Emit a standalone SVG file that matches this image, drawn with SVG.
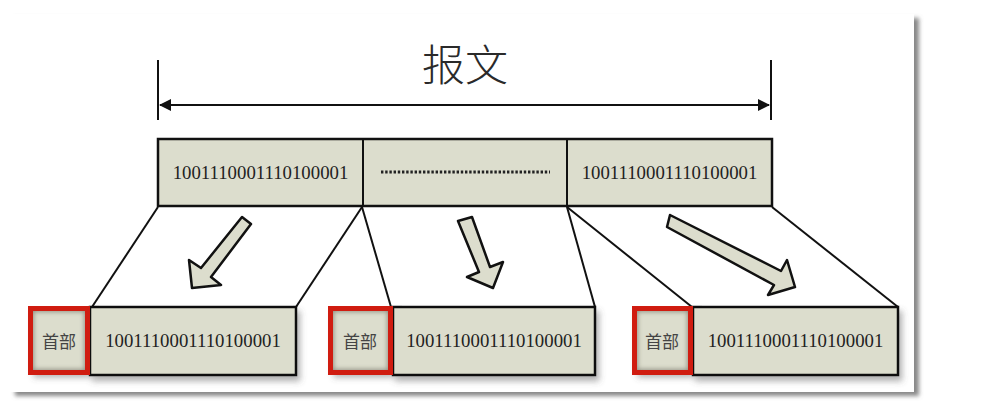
<svg xmlns="http://www.w3.org/2000/svg" width="991" height="416" viewBox="0 0 991 416">
  <defs>
    <filter id="pageShadow" x="-5%" y="-5%" width="115%" height="115%">
      <feDropShadow dx="5" dy="4" stdDeviation="2.2" flood-color="#6a6a6a" flood-opacity="0.8"/>
    </filter>
    <filter id="boxShadow" x="-10%" y="-10%" width="130%" height="140%">
      <feDropShadow dx="3" dy="5" stdDeviation="3" flood-color="#555" flood-opacity="0.45"/>
    </filter>
    <filter id="innerBlur" x="-20%" y="-20%" width="140%" height="140%">
      <feGaussianBlur stdDeviation="2.5"/>
    </filter>
    <marker id="dimArrow" viewBox="0 0 12 12" refX="11" refY="6" markerWidth="12" markerHeight="12" markerUnits="userSpaceOnUse" orient="auto-start-reverse">
      <path d="M0,0 L12,6 L0,12 Z" fill="#111"/>
    </marker>
    <clipPath id="clipR1"><rect x="33" y="311" width="52" height="59"/></clipPath>
    <clipPath id="clipR2"><rect x="333" y="311" width="55" height="59"/></clipPath>
    <clipPath id="clipR3"><rect x="637" y="311" width="51" height="59"/></clipPath>
  </defs>
  <style>
    .seg { fill: #dcddcd; stroke: #111; stroke-width: 2.5; }
    .data { fill: #dcddcd; stroke: #111; stroke-width: 2.5; }
    .hdrFill { fill: #dcddcd; }
    .hdr { fill: none; stroke: #d01c10; stroke-width: 5; }
    .inner { fill: none; stroke: #66665a; stroke-width: 6; opacity: 0.7; }
    .bits { font-family: "Liberation Serif", "Times New Roman", serif; font-size: 18.8px; fill: #222; text-anchor: middle; }
    .cjk { font-family: "Noto Sans CJK SC", "Noto Sans CJK JP", sans-serif; fill: #444; text-anchor: middle; }
    .conn { stroke: #111; stroke-width: 2; fill: none; }
    .blk { fill: #dcddcd; stroke: #111; stroke-width: 2.5; stroke-linejoin: round; }
  </style>

  <rect width="991" height="416" fill="#ffffff"/>
  <rect id="page" x="10" y="14" width="904" height="378" fill="#ffffff" filter="url(#pageShadow)"/>

  <g id="title">
    <text class="cjk" x="465" y="81" font-size="43" font-weight="300" style="fill:#2a2a2a">报文</text>
  </g>

  <g id="connectors">
    <line class="conn" x1="158" y1="60" x2="158" y2="120" stroke-width="1.8"/>
    <line class="conn" x1="771" y1="60" x2="771" y2="120" stroke-width="1.8"/>
    <line class="conn" x1="160" y1="105" x2="769" y2="105" stroke-width="2.8" marker-start="url(#dimArrow)" marker-end="url(#dimArrow)"/>
    <line class="conn" x1="158" y1="207" x2="92" y2="307"/>
    <line class="conn" x1="362" y1="207" x2="296" y2="307"/>
    <line class="conn" x1="362" y1="207" x2="391" y2="307"/>
    <line class="conn" x1="567" y1="207" x2="595" y2="307"/>
    <line class="conn" x1="567" y1="207" x2="692" y2="307"/>
    <line class="conn" x1="772" y1="207" x2="898" y2="307"/>
  </g>

  <g id="message">
    <rect class="seg" x="158" y="139" width="614" height="67"/>
    <line class="conn" x1="363" y1="139" x2="363" y2="206" stroke-width="2.5"/>
    <line class="conn" x1="567" y1="139" x2="567" y2="206" stroke-width="2.5"/>
  </g>
  <g id="segment1">
    <text class="bits" x="260.5" y="178.5">1001110001110100001</text>
  </g>
  <g id="segment2">
    <line x1="381" y1="172" x2="550" y2="172" stroke="#222" stroke-width="3" stroke-dasharray="2.4 1.8"/>
  </g>
  <g id="segment3">
    <text class="bits" x="669.5" y="178.5">1001110001110100001</text>
  </g>

  <g id="arrow1">
    <polygon class="blk" points="242,217 251,224 211,277 221,285 192,288 189,260 201,268"/>
  </g>
  <g id="arrow2">
    <polygon class="blk" points="458,221 472,217 490,267 503,262 493,288 467,277 479,272"/>
  </g>
  <g id="arrow3">
    <polygon class="blk" points="670,215 781,271 787,260 795,287 768,295 774,285 667,227"/>
  </g>

  <g id="packet1">
    <g filter="url(#boxShadow)">
      <rect class="hdrFill" x="30.5" y="308.5" width="57" height="64"/>
      <rect class="data" x="90" y="307" width="206" height="68"/>
    </g>
    <rect class="inner" x="30.5" y="308.5" width="57" height="64" clip-path="url(#clipR1)" filter="url(#innerBlur)"/>
    <rect class="hdr" x="30.5" y="308.5" width="57" height="64"/>
    <text class="cjk" x="59" y="348" font-size="17">首部</text>
    <text class="bits" x="193" y="347">1001110001110100001</text>
  </g>
  <g id="packet2">
    <g filter="url(#boxShadow)">
      <rect class="hdrFill" x="330.5" y="308.5" width="60" height="64"/>
      <rect class="data" x="393" y="307" width="202" height="68"/>
    </g>
    <rect class="inner" x="330.5" y="308.5" width="60" height="64" clip-path="url(#clipR2)" filter="url(#innerBlur)"/>
    <rect class="hdr" x="330.5" y="308.5" width="60" height="64"/>
    <text class="cjk" x="360" y="348" font-size="17">首部</text>
    <text class="bits" x="494" y="347">1001110001110100001</text>
  </g>
  <g id="packet3">
    <g filter="url(#boxShadow)">
      <rect class="hdrFill" x="634.5" y="308.5" width="56" height="64"/>
      <rect class="data" x="693" y="307" width="205" height="68"/>
    </g>
    <rect class="inner" x="634.5" y="308.5" width="56" height="64" clip-path="url(#clipR3)" filter="url(#innerBlur)"/>
    <rect class="hdr" x="634.5" y="308.5" width="56" height="64"/>
    <text class="cjk" x="662" y="348" font-size="17">首部</text>
    <text class="bits" x="795.5" y="347">1001110001110100001</text>
  </g>
</svg>
